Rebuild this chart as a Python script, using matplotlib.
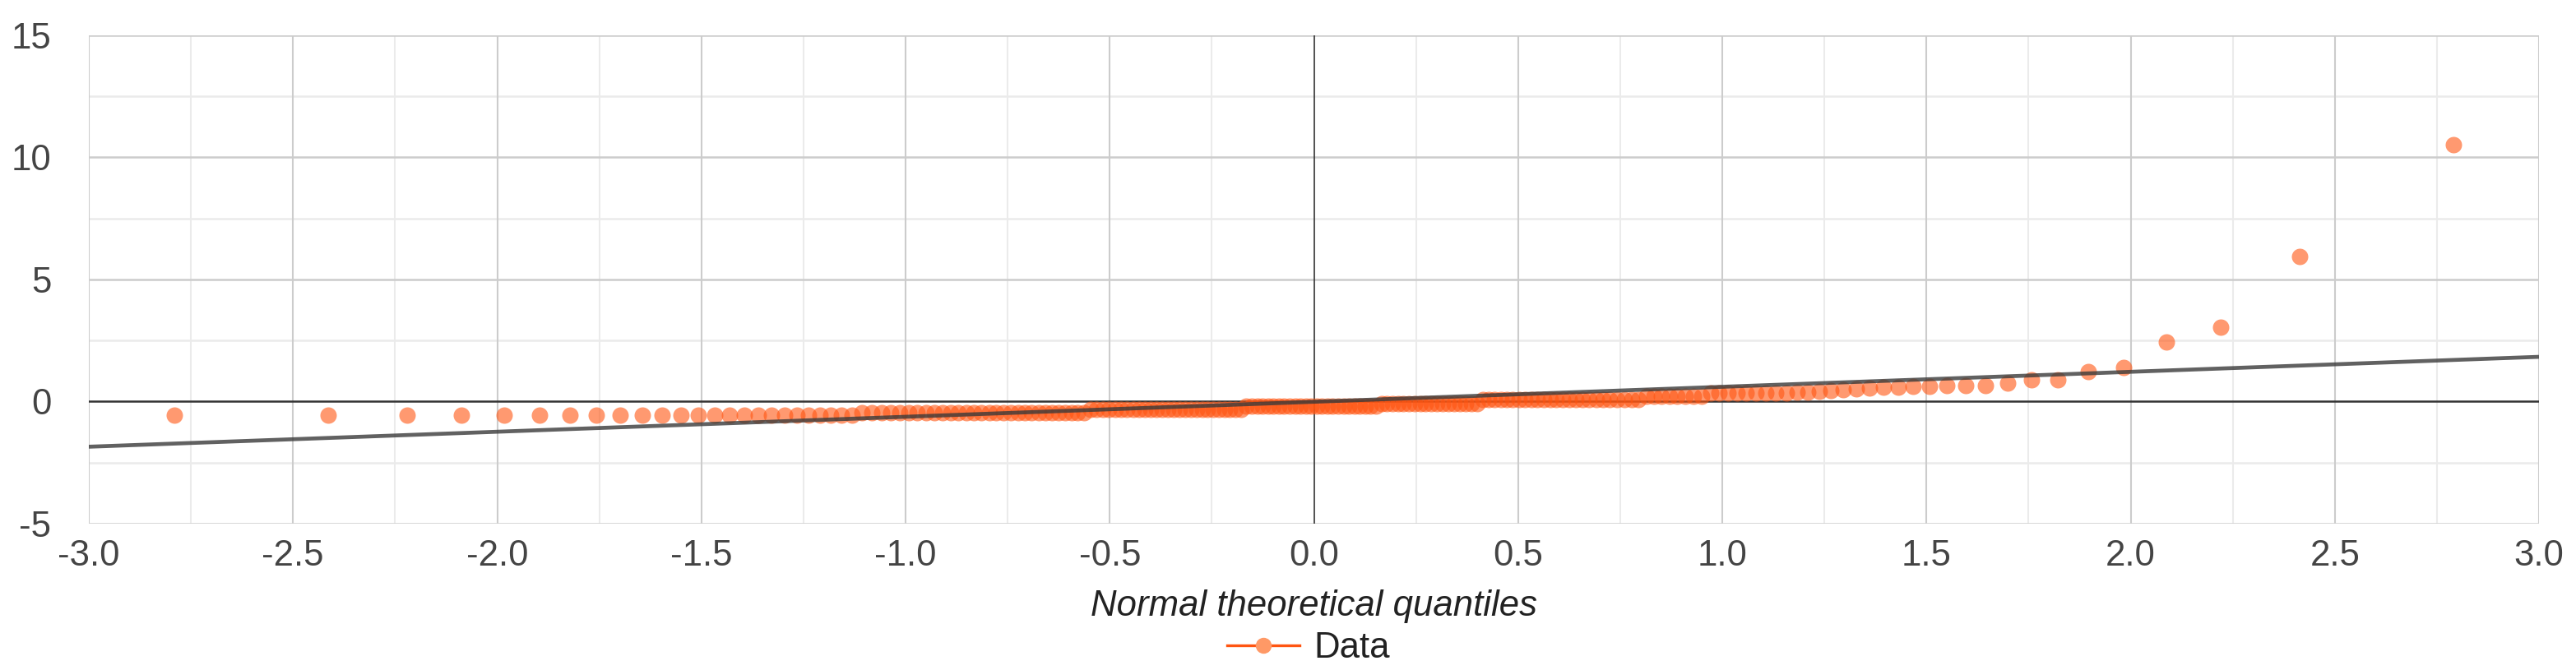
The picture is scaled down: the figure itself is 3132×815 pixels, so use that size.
import matplotlib
matplotlib.use("Agg")
import matplotlib.pyplot as plt
from matplotlib.lines import Line2D
from statistics import NormalDist

# ---- data (sorted sample values) ----
sample_values = [
    -0.55, -0.55, -0.55, -0.55, -0.55, -0.55, -0.55, -0.55, -0.55, -0.55,
    -0.55, -0.55, -0.55, -0.55, -0.55, -0.55, -0.55, -0.55, -0.55, -0.55,
    -0.55, -0.55, -0.55, -0.55, -0.55,
    -0.45, -0.45, -0.45, -0.45, -0.45, -0.45, -0.45, -0.45, -0.45, -0.45,
    -0.45, -0.45, -0.45, -0.45, -0.45, -0.45, -0.45, -0.45, -0.45, -0.45,
    -0.45, -0.45, -0.45, -0.45, -0.45, -0.45, -0.45, -0.45, -0.45, -0.45,
    -0.31, -0.31, -0.31, -0.31, -0.31, -0.31, -0.31, -0.31, -0.31, -0.31,
    -0.31, -0.31, -0.31, -0.31, -0.31, -0.31, -0.31, -0.31, -0.31, -0.31,
    -0.31, -0.31, -0.31, -0.31, -0.31, -0.31, -0.31,
    -0.19, -0.19, -0.19, -0.19, -0.19, -0.19, -0.19, -0.19, -0.19, -0.19,
    -0.19, -0.19, -0.19, -0.19, -0.19, -0.19, -0.19, -0.19, -0.19, -0.19,
    -0.19, -0.19, -0.19, -0.19, -0.19,
    -0.08, -0.08, -0.08, -0.08, -0.08, -0.08, -0.08, -0.08, -0.08, -0.08,
    -0.08, -0.08, -0.08, -0.08, -0.08, -0.08, -0.08, -0.08,
    0.08, 0.08, 0.08, 0.08, 0.08, 0.08, 0.08, 0.08, 0.08, 0.08,
    0.08, 0.08, 0.08, 0.08, 0.08, 0.08, 0.08, 0.08, 0.08, 0.08,
    0.08, 0.08, 0.08, 0.08, 0.08,
    0.20, 0.20, 0.20, 0.20, 0.20, 0.20, 0.20, 0.20,
    0.35, 0.35, 0.35, 0.35, 0.35, 0.35, 0.35, 0.35, 0.35,
    0.38, 0.40, 0.42, 0.45, 0.50, 0.53, 0.55, 0.58, 0.60, 0.62,
    0.63, 0.64, 0.64, 0.65, 0.76, 0.88, 0.88, 1.24, 1.38, 2.45,
    3.05, 5.95, 10.5,
]
trend_x = [-3.0, 3.0]
trend_y = [-1.85, 1.83]
x_ticks = [-3.0, -2.5, -2.0, -1.5, -1.0, -0.5, 0.0, 0.5, 1.0, 1.5, 2.0, 2.5, 3.0]
y_ticks = [-5, 0, 5, 10, 15]
x_label = "Normal theoretical quantiles"
series_name = "Data"

# theoretical normal quantiles (Q-Q plot x positions)
n = len(sample_values)
nd = NormalDist()
theoretical = [nd.inv_cdf((i + 0.5) / n) for i in range(n)]

plt.rcParams['font.family'] = ['Liberation Sans', 'DejaVu Sans']

DPI = 100
fig = plt.figure(figsize=(3132 / DPI, 815 / DPI), dpi=DPI)
ax = fig.add_axes([108 / 3132, (815 - 637) / 815, (3087 - 108) / 3132, (637 - 42.7) / 815])

ax.set_xlim(-3, 3)
ax.set_ylim(-5, 15)

# grid
for v in [-2.75 + 0.5 * k for k in range(12)]:
    ax.axvline(v, color='#ebebeb', lw=1.5, zorder=0)
for v in [-2.5, 2.5, 7.5, 12.5]:
    ax.axhline(v, color='#ebebeb', lw=1.8, zorder=0)
for v in x_ticks:
    if v != 0:
        ax.axvline(v, color='#cccccc', lw=1.5, zorder=0.5)
for v in y_ticks:
    if v != 0:
        ax.axhline(v, color='#cccccc', lw=1.8, zorder=0.5)

# zero axes
ax.axhline(0, color='#333333', lw=1.8, zorder=1)
ax.axvline(0, color='#333333', lw=1.2, zorder=1)

for s in ax.spines.values():
    s.set_visible(False)

# data points
ax.plot(theoretical, sample_values, linestyle='none', marker='o', markersize=14.4,
        markeredgewidth=0, color='#ff5511', alpha=0.6, zorder=2, clip_on=False)

# trend line
ax.plot(trend_x, trend_y, color='#3a3a3a', lw=3.4, alpha=0.8, zorder=3,
        solid_capstyle='butt')

ax.set_xticks(x_ticks)
ax.set_xticklabels([f"{v:.1f}" for v in x_ticks])
ax.set_yticks(y_ticks)
ax.set_yticklabels([str(v) for v in y_ticks])
ax.tick_params(axis='both', length=0, labelsize=31.5, labelcolor='#444444')
ax.tick_params(axis='x', pad=14)
ax.tick_params(axis='y', pad=33)

ax.set_xlabel(x_label, fontsize=31.5, style='italic', color='#222222', labelpad=14)

handle = Line2D([], [], color='#ff5511', lw=2.4, marker='o', markersize=14,
                markerfacecolor='#ff9966', markeredgewidth=0)
fig.legend([handle], [series_name], loc='center', bbox_to_anchor=(0.508, 26 / 815),
           frameon=False, fontsize=31.5, handlelength=2.0, handletextpad=0.4,
           labelcolor='#222222')

fig.savefig("out.png", dpi=DPI)
